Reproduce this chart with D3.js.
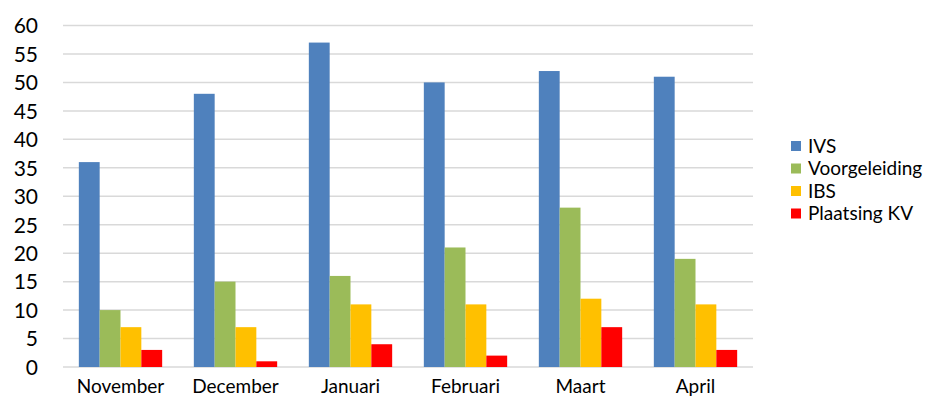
<!DOCTYPE html>
<html>
<head>
<meta charset="utf-8">
<script src="https://cdn.jsdelivr.net/npm/d3@7"></script>
<style>
  body { margin: 0; background: #fff; }
  text { font-family: Lato, "Open Sans", sans-serif; fill: #000; }
</style>
</head>
<body>
<div id="chart"></div>
<script>
// data
var months = ['November', 'December', 'Januari', 'Februari', 'Maart', 'April'];
var seriesNames = ['IVS', 'Voorgeleiding', 'IBS', 'Plaatsing KV'];
var ivs = [36, 48, 57, 50, 52, 51];
var voorgeleiding = [10, 15, 16, 21, 28, 19];
var ibs = [7, 7, 11, 11, 12, 11];
var plaatsingKV = [3, 1, 4, 2, 7, 3];
var yTicks = [0, 5, 10, 15, 20, 25, 30, 35, 40, 45, 50, 55, 60];
var colors = ['#4F81BD', '#9BBB59', '#FFC000', '#FF0000'];

var allSeries = [ivs, voorgeleiding, ibs, plaatsingKV];

var svg = d3.select('#chart').append('svg')
  .attr('width', 930)
  .attr('height', 404);

var plotLeft = 63, plotRight = 753, plotTop = 25.5, plotBottom = 367;

var x = d3.scaleBand().domain(months).range([plotLeft, plotRight]).paddingInner(0).paddingOuter(0);
var xs = d3.scaleBand().domain(seriesNames).range([0, x.bandwidth()]).paddingInner(0).paddingOuter(0.76);
var y = d3.scaleLinear().domain([0, 60]).range([plotBottom, plotTop]);

// gridlines
svg.append('g').selectAll('line')
  .data(yTicks)
  .join('line')
  .attr('x1', plotLeft).attr('x2', plotRight)
  .attr('y1', d => y(d)).attr('y2', d => y(d))
  .attr('stroke', '#D9D9D9')
  .attr('stroke-width', 1.5);

// y axis labels
var yAxis = d3.axisLeft(y).tickValues(yTicks).tickSize(0).tickPadding(0);
svg.append('g')
  .attr('transform', 'translate(38,0)')
  .call(yAxis)
  .call(g => g.select('.domain').remove())
  .selectAll('text')
  .style('font-size', '21px')
  .style('font-family', 'Lato, sans-serif')
  .attr('fill', '#000')
  .attr('dy', '0.35em');

// bars
var groups = svg.append('g').selectAll('g')
  .data(allSeries)
  .join('g')
  .attr('fill', (d, i) => colors[i]);

groups.each(function(vals, si) {
  d3.select(this).selectAll('rect')
    .data(vals)
    .join('rect')
    .attr('x', (d, i) => x(months[i]) + xs(seriesNames[si]))
    .attr('width', xs.bandwidth())
    .attr('y', d => y(d))
    .attr('height', d => y(0) - y(d));
});

// x labels
var xAxis = d3.axisBottom(x).tickSize(0).tickPadding(0);
svg.append('g')
  .attr('transform', 'translate(0,' + 379 + ')')
  .call(xAxis)
  .call(g => g.select('.domain').remove())
  .selectAll('text')
  .style('font-size', '19px')
  .style('font-family', 'Lato, sans-serif')
  .attr('fill', '#000')
  .attr('dy', '0.75em');

// legend
var legend = svg.append('g').selectAll('g')
  .data(seriesNames)
  .join('g')
  .attr('transform', (d, i) => 'translate(791,' + (146 + i * 22.5) + ')');

legend.append('rect')
  .attr('x', 0).attr('y', -5)
  .attr('width', 10).attr('height', 10)
  .attr('fill', (d, i) => colors[i]);

legend.append('text')
  .attr('x', 17).attr('y', 0)
  .attr('dy', '0.35em')
  .style('font-size', '19px')
  .text(d => d);
</script>
</body>
</html>
